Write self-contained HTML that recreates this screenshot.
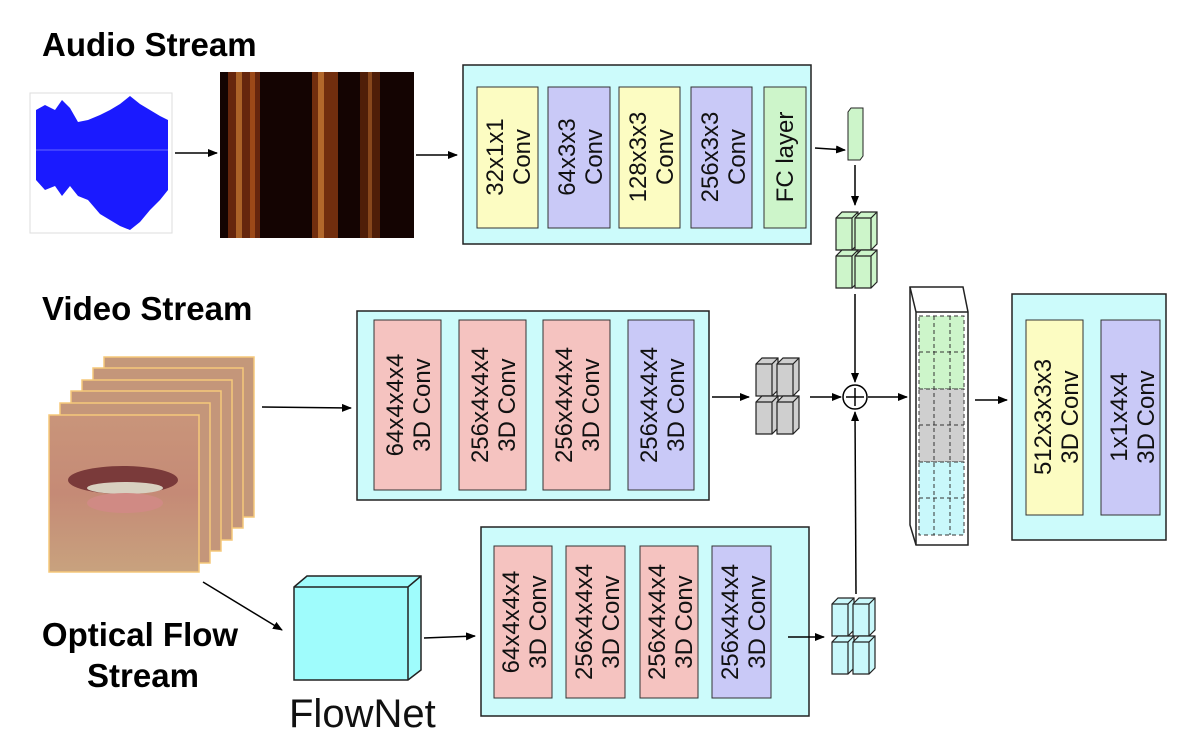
<!DOCTYPE html>
<html><head><meta charset="utf-8"><style>
html,body{margin:0;padding:0;background:#fff}
svg{display:block;font-family:"Liberation Sans",Arial,sans-serif}
.t{font-size:24px;fill:#111}
.h{font-size:33px;font-weight:bold;fill:#000}
</style></head><body>
<svg width="1188" height="740" viewBox="0 0 1188 740">
<defs>
<marker id="ah" markerWidth="10" markerHeight="8" refX="9" refY="4" orient="auto" markerUnits="userSpaceOnUse"><path d="M0,0 L10,4 L0,8 z" fill="#000"/></marker>
<linearGradient id="lip" x1="0" y1="0" x2="0" y2="1"><stop offset="0" stop-color="#c9957a"/><stop offset="0.5" stop-color="#c58a76"/><stop offset="1" stop-color="#c8a27e"/></linearGradient>
<g id="cube"><path d="M0,6 L6,0 L22,0 L22,32 L16,38 L0,38 z" stroke="#222" stroke-width="1.2"/><path d="M0,6 L16,6 L22,0 M16,6 L16,38" fill="none" stroke="#222" stroke-width="1.2"/></g>
</defs>

<text class="h" x="42" y="56">Audio Stream</text>
<g>
<rect x="30" y="93" width="142" height="140" fill="#fff" stroke="#ddd"/>
<path d="M36,150 L36,110 L45,105 L55,110 L62,100 L70,108 L78,122 L88,120 L100,115 L110,110 L120,104 L130,96 L140,104 L150,110 L160,116 L168,120 L168,190 L160,200 L150,210 L140,222 L130,230 L120,226 L110,220 L100,214 L88,200 L78,196 L70,186 L62,196 L55,186 L45,190 L36,180 z" fill="#1a1aff"/>
<path d="M36,150 L168,150" stroke="#4040ff" stroke-width="2"/>
</g>
<line x1="175" y1="153" x2="217" y2="153" stroke="#000" stroke-width="1.5" marker-end="url(#ah)"/>
<g>
<rect x="220" y="72" width="194" height="166" fill="#140402"/>
<rect x="228" y="72" width="32" height="166" fill="#7a3010" opacity="0.8"/>
<rect x="236" y="72" width="6" height="166" fill="#d88a3a" opacity="0.6"/>
<rect x="250" y="72" width="5" height="166" fill="#c06020" opacity="0.6"/>
<rect x="312" y="72" width="26" height="166" fill="#8a3a12" opacity="0.8"/>
<rect x="318" y="72" width="6" height="166" fill="#e09040" opacity="0.6"/>
<rect x="360" y="72" width="20" height="166" fill="#6a2a0c" opacity="0.7"/>
<rect x="368" y="72" width="4" height="166" fill="#c07030" opacity="0.5"/>
</g>
<line x1="416" y1="155" x2="457" y2="155" stroke="#000" stroke-width="1.5" marker-end="url(#ah)"/>
<g>
<rect x="463" y="65" width="348" height="179" fill="#ccfbfb" stroke="#222" stroke-width="1.5"/>
<rect x="477" y="87" width="61" height="141" fill="#fcfcc2" stroke="#333"/>
<rect x="548" y="87" width="62" height="141" fill="#c9c9f7" stroke="#333"/>
<rect x="619" y="87" width="61" height="141" fill="#fcfcc2" stroke="#333"/>
<rect x="691" y="87" width="61" height="141" fill="#c9c9f7" stroke="#333"/>
<rect x="764" y="87" width="42" height="141" fill="#cdf5ca" stroke="#333"/>
<text class="t" transform="translate(507,157) rotate(-90)" text-anchor="middle"><tspan x="0" dy="-4">32x1x1</tspan><tspan x="0" dy="27">Conv</tspan></text>
<text class="t" transform="translate(579,157) rotate(-90)" text-anchor="middle"><tspan x="0" dy="-4">64x3x3</tspan><tspan x="0" dy="27">Conv</tspan></text>
<text class="t" transform="translate(650,157) rotate(-90)" text-anchor="middle"><tspan x="0" dy="-4">128x3x3</tspan><tspan x="0" dy="27">Conv</tspan></text>
<text class="t" transform="translate(722,157) rotate(-90)" text-anchor="middle"><tspan x="0" dy="-4">256x3x3</tspan><tspan x="0" dy="27">Conv</tspan></text>
<text class="t" transform="translate(793,157) rotate(-90)" text-anchor="middle">FC layer</text>
</g>
<line x1="815" y1="148" x2="845" y2="150" stroke="#000" stroke-width="1.5" marker-end="url(#ah)"/>
<g>
<path d="M848,112 L851,108 L863,108 L863,156 L860,160 L848,160 z" fill="#cdf5ca" stroke="#222"/>
</g>
<line x1="855" y1="165" x2="855" y2="205" stroke="#000" stroke-width="1.5" marker-end="url(#ah)"/>
<g fill="#cdf5ca">
<use href="#cube" x="836" y="212"/><use href="#cube" x="855" y="212"/>
<use href="#cube" x="836" y="250"/><use href="#cube" x="855" y="250"/>
</g>
<line x1="855" y1="294" x2="855" y2="382" stroke="#000" stroke-width="1.5" marker-end="url(#ah)"/>

<text class="h" x="42" y="320">Video Stream</text>
<g>
<rect x="104" y="357" width="150" height="160" fill="#c4987a" stroke="#f5c87a" stroke-width="1.5"/>
<rect x="93" y="368" width="150" height="160" fill="#c4967a" stroke="#f5c87a" stroke-width="1.5"/>
<rect x="82" y="380" width="150" height="160" fill="#c4967a" stroke="#f5c87a" stroke-width="1.5"/>
<rect x="71" y="391" width="150" height="160" fill="#c4967a" stroke="#f5c87a" stroke-width="1.5"/>
<rect x="60" y="403" width="150" height="160" fill="#c4967a" stroke="#f5c87a" stroke-width="1.5"/>
<rect x="49" y="415" width="150" height="157" fill="url(#lip)" stroke="#f5c87a" stroke-width="1.5"/>
<ellipse cx="123" cy="480" rx="55" ry="14" fill="#7a3a3a"/>
<ellipse cx="125" cy="488" rx="38" ry="6" fill="#d8d0c0"/>
<ellipse cx="125" cy="503" rx="38" ry="10" fill="#d08a84"/>
</g>
<line x1="262" y1="407" x2="351" y2="408" stroke="#000" stroke-width="1.5" marker-end="url(#ah)"/>
<g>
<rect x="357" y="311" width="352" height="189" fill="#ccfbfb" stroke="#222" stroke-width="1.5"/>
<rect x="374" y="320" width="67" height="170" fill="#f5c3c0" stroke="#333"/>
<rect x="459" y="320" width="67" height="170" fill="#f5c3c0" stroke="#333"/>
<rect x="543" y="320" width="67" height="170" fill="#f5c3c0" stroke="#333"/>
<rect x="628" y="320" width="66" height="170" fill="#c9c9f7" stroke="#333"/>
<text class="t" transform="translate(407,405) rotate(-90)" text-anchor="middle"><tspan x="0" dy="-4">64x4x4x4</tspan><tspan x="0" dy="27">3D Conv</tspan></text>
<text class="t" transform="translate(492,405) rotate(-90)" text-anchor="middle"><tspan x="0" dy="-4">256x4x4x4</tspan><tspan x="0" dy="27">3D Conv</tspan></text>
<text class="t" transform="translate(576,405) rotate(-90)" text-anchor="middle"><tspan x="0" dy="-4">256x4x4x4</tspan><tspan x="0" dy="27">3D Conv</tspan></text>
<text class="t" transform="translate(661,405) rotate(-90)" text-anchor="middle"><tspan x="0" dy="-4">256x4x4x4</tspan><tspan x="0" dy="27">3D Conv</tspan></text>
</g>
<line x1="712" y1="397" x2="749" y2="397" stroke="#000" stroke-width="1.5" marker-end="url(#ah)"/>
<g fill="#cfcfcf">
<use href="#cube" x="756" y="358"/><use href="#cube" x="777" y="358"/>
<use href="#cube" x="756" y="396"/><use href="#cube" x="777" y="396"/>
</g>
<line x1="810" y1="397" x2="841" y2="397" stroke="#000" stroke-width="1.5" marker-end="url(#ah)"/>
<g>
<circle cx="855" cy="397" r="12" fill="#fff" stroke="#000" stroke-width="1.5"/>
<path d="M846,397 L864,397 M855,388 L855,406" stroke="#000" stroke-width="1.5"/>
</g>
<line x1="868" y1="397" x2="907" y2="397" stroke="#000" stroke-width="1.5" marker-end="url(#ah)"/>
<g>
<path d="M910,287 L963,287 L968,312 L968,545 L916,545 L910,525 z" fill="#fff" stroke="#222" stroke-width="1.5"/>
<path d="M910,287 L916,312 L968,312 M916,312 L916,545" fill="none" stroke="#222" stroke-width="1.5"/>
<rect x="919" y="316" width="45" height="73" fill="#cdf5ca" stroke="#333" stroke-dasharray="4,3"/>
<rect x="919" y="389" width="45" height="73" fill="#cfcfcf" stroke="#333" stroke-dasharray="4,3"/>
<rect x="919" y="462" width="45" height="73" fill="#c9f8fb" stroke="#333" stroke-dasharray="4,3"/>
<path d="M934,316 L934,535 M950,316 L950,535 M919,352 L964,352 M919,425 L964,425 M919,498 L964,498" stroke="#333" stroke-dasharray="4,3" fill="none"/>
</g>
<line x1="975" y1="400" x2="1007" y2="400" stroke="#000" stroke-width="1.5" marker-end="url(#ah)"/>
<g>
<rect x="1012" y="294" width="154" height="246" fill="#ccfbfb" stroke="#222" stroke-width="1.5"/>
<rect x="1026" y="320" width="57" height="195" fill="#fcfcc2" stroke="#333"/>
<rect x="1101" y="320" width="59" height="195" fill="#c9c9f7" stroke="#333"/>
<text class="t" transform="translate(1055,417) rotate(-90)" text-anchor="middle"><tspan x="0" dy="-4">512x3x3x3</tspan><tspan x="0" dy="27">3D Conv</tspan></text>
<text class="t" transform="translate(1131,417) rotate(-90)" text-anchor="middle"><tspan x="0" dy="-4">1x1x4x4</tspan><tspan x="0" dy="27">3D Conv</tspan></text>
</g>

<text class="h" x="140" y="646" text-anchor="middle"><tspan x="140">Optical Flow</tspan><tspan x="143" dy="41">Stream</tspan></text>
<line x1="203" y1="582" x2="282" y2="630" stroke="#000" stroke-width="1.5" marker-end="url(#ah)"/>
<g>
<path d="M294,587 L307,576 L421,576 L421,670 L408,680 L294,680 z" fill="#9ffcfc" stroke="#222" stroke-width="1.5"/>
<path d="M294,587 L408,587 L421,576 M408,587 L408,680" fill="none" stroke="#222" stroke-width="1.5"/>
<text x="289" y="727" font-size="40" fill="#111">FlowNet</text>
</g>
<line x1="424" y1="638" x2="475" y2="636" stroke="#000" stroke-width="1.5" marker-end="url(#ah)"/>
<g>
<rect x="481" y="527" width="328" height="189" fill="#ccfbfb" stroke="#222" stroke-width="1.5"/>
<rect x="494" y="546" width="58" height="152" fill="#f5c3c0" stroke="#333"/>
<rect x="566" y="546" width="59" height="152" fill="#f5c3c0" stroke="#333"/>
<rect x="640" y="546" width="58" height="152" fill="#f5c3c0" stroke="#333"/>
<rect x="712" y="546" width="59" height="152" fill="#c9c9f7" stroke="#333"/>
<text class="t" transform="translate(523,622) rotate(-90)" text-anchor="middle"><tspan x="0" dy="-4">64x4x4x4</tspan><tspan x="0" dy="27">3D Conv</tspan></text>
<text class="t" transform="translate(596,622) rotate(-90)" text-anchor="middle"><tspan x="0" dy="-4">256x4x4x4</tspan><tspan x="0" dy="27">3D Conv</tspan></text>
<text class="t" transform="translate(669,622) rotate(-90)" text-anchor="middle"><tspan x="0" dy="-4">256x4x4x4</tspan><tspan x="0" dy="27">3D Conv</tspan></text>
<text class="t" transform="translate(742,622) rotate(-90)" text-anchor="middle"><tspan x="0" dy="-4">256x4x4x4</tspan><tspan x="0" dy="27">3D Conv</tspan></text>
</g>
<line x1="788" y1="637" x2="824" y2="637" stroke="#000" stroke-width="1.5" marker-end="url(#ah)"/>
<g fill="#c9f8fb">
<use href="#cube" x="832" y="598"/><use href="#cube" x="853" y="598"/>
<use href="#cube" x="832" y="636"/><use href="#cube" x="853" y="636"/>
</g>
<line x1="856" y1="594" x2="855" y2="412" stroke="#000" stroke-width="1.5" marker-end="url(#ah)"/>
</svg>
</body></html>
